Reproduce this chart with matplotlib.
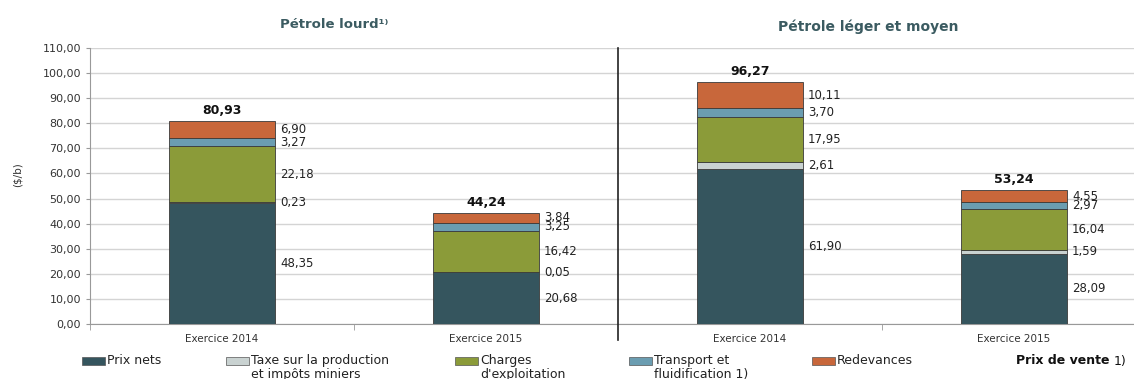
import matplotlib
matplotlib.use("Agg")
import matplotlib.pyplot as plt
import numpy as np
from matplotlib.patches import Rectangle

# data
categories = ["Exercice 2014", "Exercice 2015", "Exercice 2014", "Exercice 2015"]
prix_nets = [48.35, 20.68, 61.90, 28.09]
taxe = [0.23, 0.05, 2.61, 1.59]
charges = [22.18, 16.42, 17.95, 16.04]
transport = [3.27, 3.25, 3.70, 2.97]
redevances = [6.90, 3.84, 10.11, 4.55]
totaux = [80.93, 44.24, 96.27, 53.24]

series_names = ["Prix nets", "Taxe sur la production\net impôts miniers",
                "Charges\nd'exploitation", "Transport et\nfluidification 1)", "Redevances"]
colors = ["#35555e", "#c9d2d1", "#8b9b39", "#6b9db1", "#c8673b"]

def fr(v):
    return f"{v:.2f}".replace(".", ",")

fig = plt.figure(figsize=(11.34, 3.79), dpi=100)
ax = fig.add_axes([90/1134, 55/379, 1 - 90/1134, 276/379])

x = np.arange(len(categories))
series = [prix_nets, taxe, charges, transport, redevances]
bottom = np.zeros(len(categories))
for vals, col in zip(series, colors):
    vals = np.array(vals)
    ax.bar(x, vals, 0.4, bottom=bottom, color=col, edgecolor="#3a3a3a", linewidth=0.6, zorder=3)
    for xi, b, v in zip(x, bottom, vals):
        ax.text(xi + 0.22, b + v / 2, fr(v), ha="left", va="center", fontsize=8.5, color="#222222")
    bottom += vals

for xi, t in zip(x, totaux):
    ax.annotate(fr(t), (xi, t), xytext=(0, 3), textcoords="offset points",
                ha="center", va="bottom", fontsize=9, fontweight="bold", color="#111111")

ax.set_xlim(-0.5, (1134 - 222) / 264)
ax.set_ylim(0, 110)
ax.set_yticks(np.arange(0, 111, 10))
ax.set_yticklabels([fr(v) for v in np.arange(0, 111, 10)], fontsize=8, color="#333333")
ax.set_xticks(x)
ax.set_xticklabels(categories, fontsize=7.5, color="#333333")
ax.tick_params(axis="x", length=0, pad=7)
ax.tick_params(axis="y", length=3, color="#999999")
ax.set_xticks([-0.5, 0.5, 2.5], minor=True)
ax.tick_params(axis="x", which="minor", length=4, color="#999999")
ax.grid(axis="y", color="#d4d4d4", linewidth=1, zorder=0)
for s in ["top", "right"]:
    ax.spines[s].set_visible(False)
ax.spines["left"].set_color("#999999")
ax.spines["bottom"].set_color("#999999")

ax.plot([1.5, 1.5], [-6.5, 110], color="#222222", linewidth=1.2, clip_on=False, zorder=4)

fig.text(18/1134, 1 - 175/379, "($/b)", rotation=90, ha="center", va="center",
         fontsize=7.5, color="#333333")
fig.text(334/1134, 1 - 25/379, "Pétrole lourd¹⁾", ha="center", va="center",
         fontsize=9.5, fontweight="bold", color="#3b5b61")
fig.text(868/1134, 1 - 27/379, "Pétrole léger et moyen", ha="center", va="center",
         fontsize=10, fontweight="bold", color="#3b5b61")

# legend (second lines run off the bottom edge as in the original)
patch_x = [82, 226, 455, 629, 812]
for px, name, col in zip(patch_x, series_names, colors):
    fig.patches.append(Rectangle((px/1134, 1 - 365/379), 23/1134, 8/379,
                                 transform=fig.transFigure, facecolor=col,
                                 edgecolor="#555555", linewidth=0.5))
    if "\n" in name:
        fig.text((px + 25)/1134, 1 - 378/379, name, ha="left", va="baseline",
                 fontsize=9, color="#222222", linespacing=1.1)
    else:
        fig.text((px + 25)/1134, 1 - 361/379, name, ha="left", va="center",
                 fontsize=9, color="#222222")
fig.text(1110/1134, 1 - 361/379, "Prix de vente", ha="right", va="center",
         fontsize=9, fontweight="bold", color="#111111")
fig.text(1114/1134, 1 - 361/379, "1)", ha="left", va="center", fontsize=9, color="#111111")

fig.savefig("out.png", dpi=100)
